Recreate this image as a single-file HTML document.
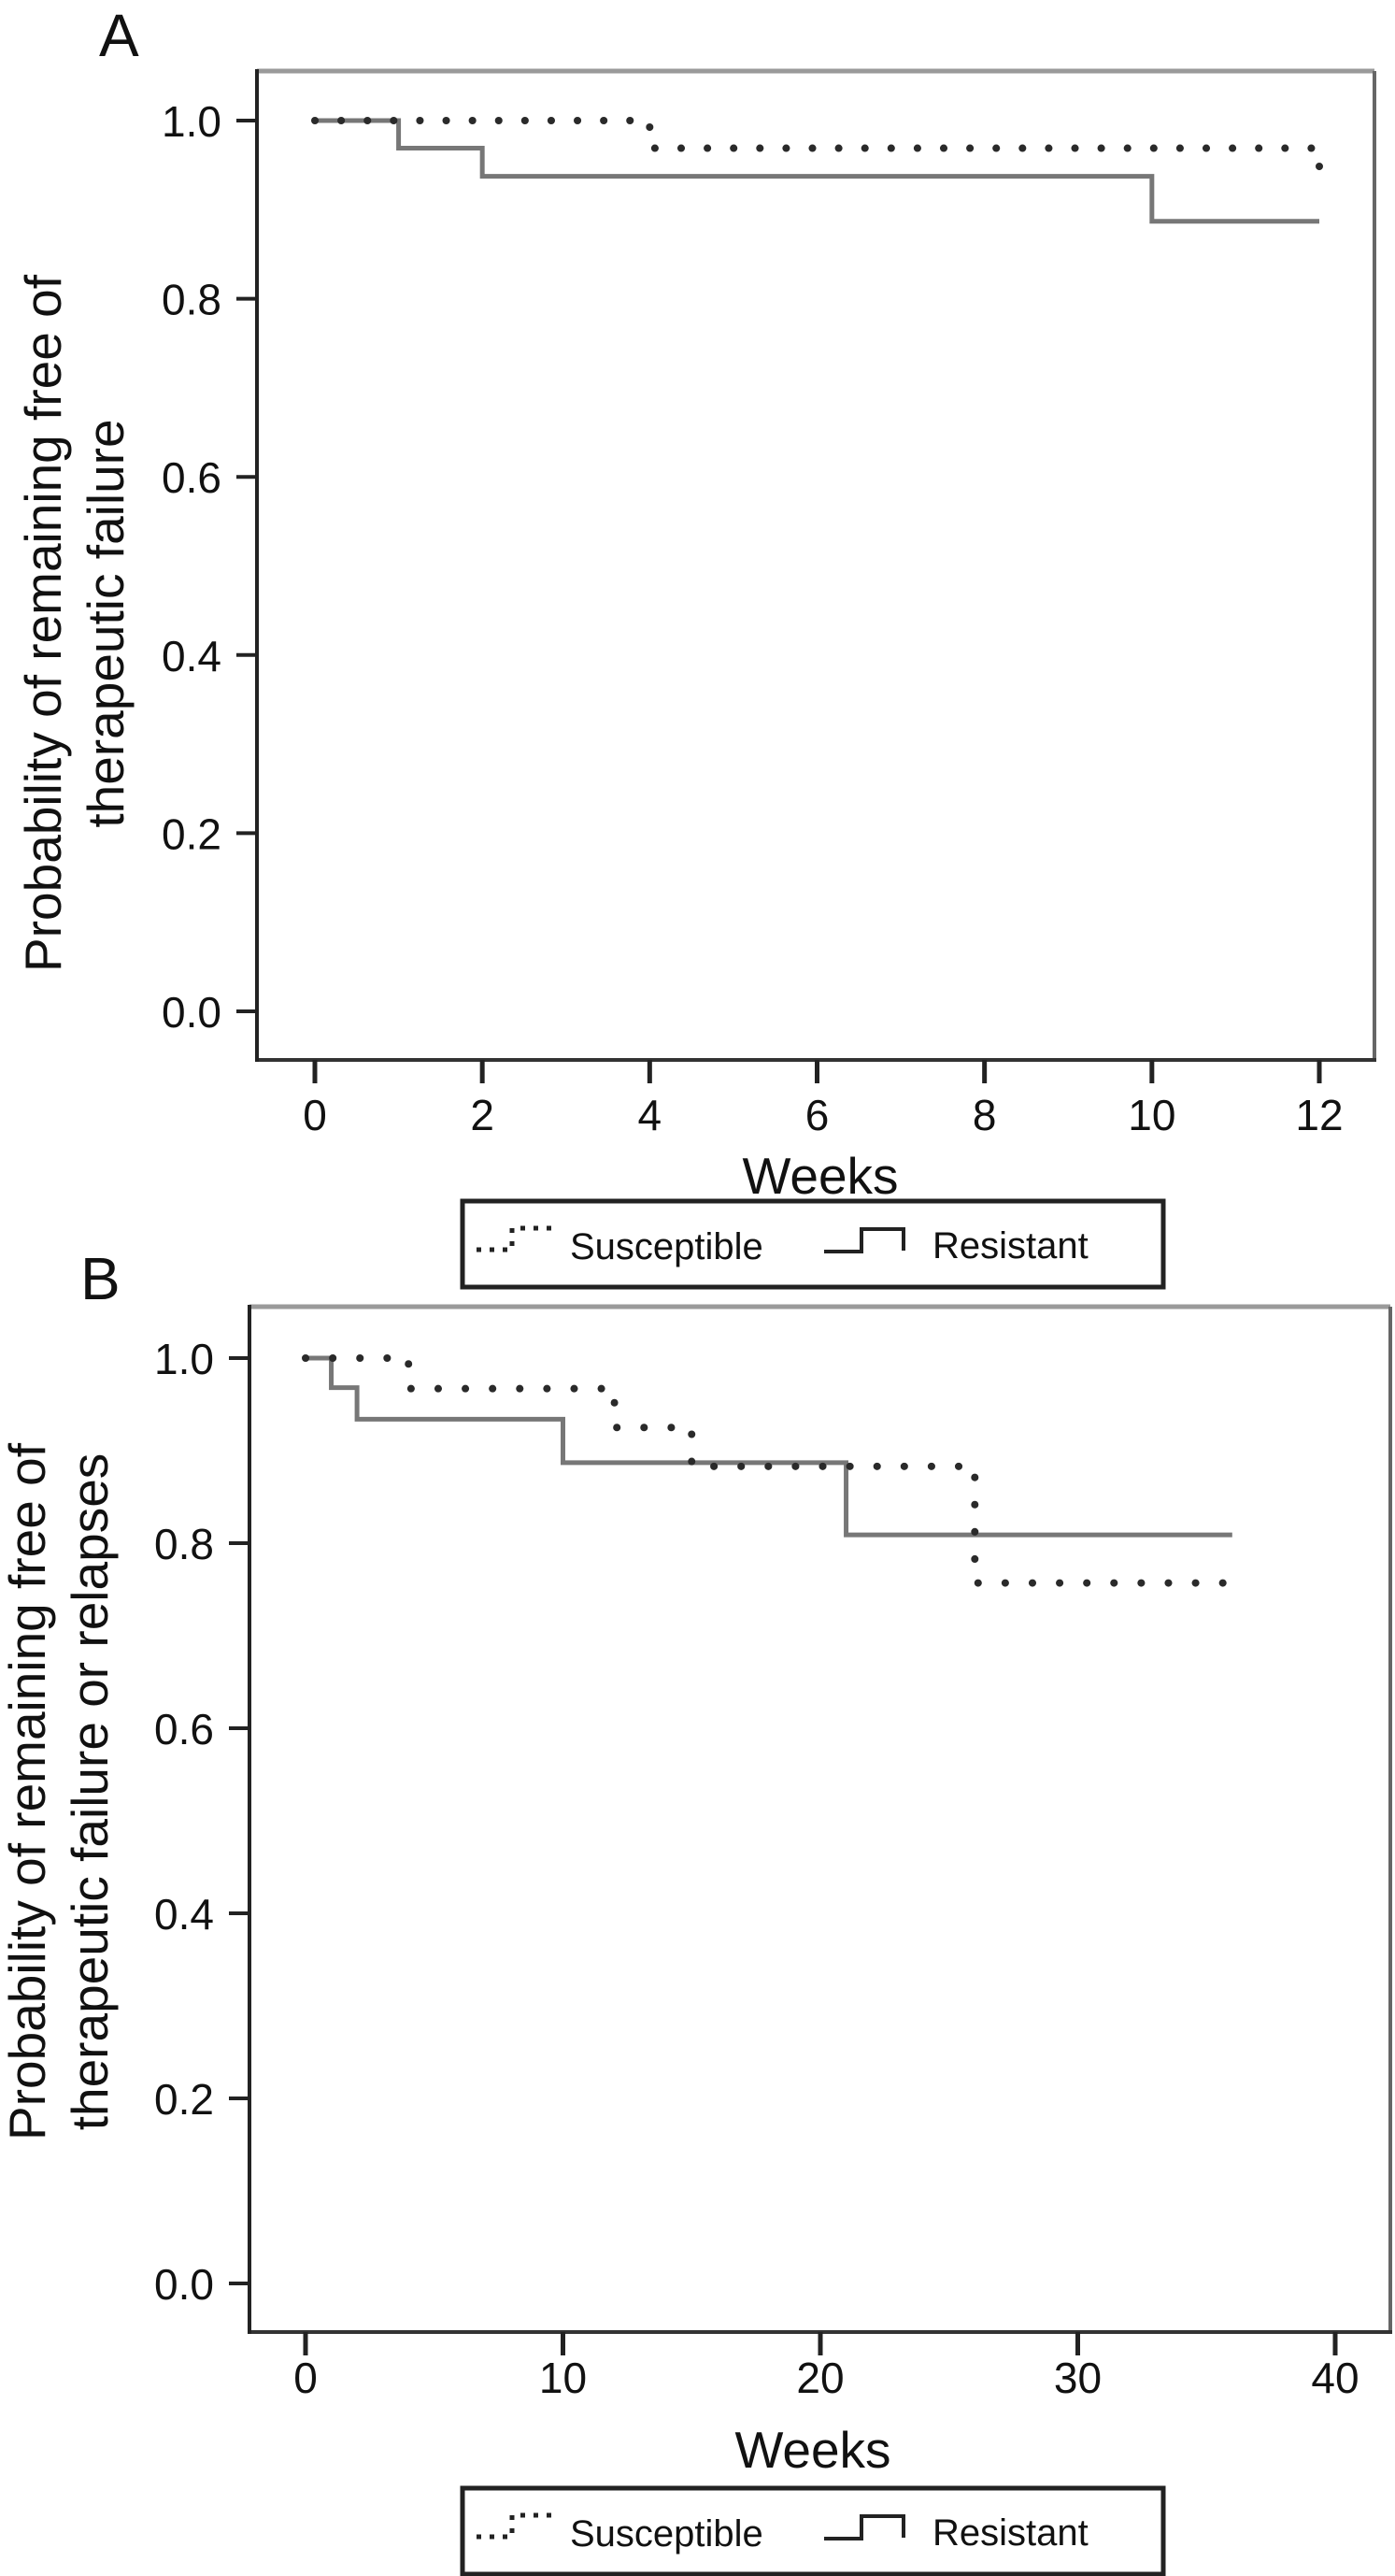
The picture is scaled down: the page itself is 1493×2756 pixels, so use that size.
<!DOCTYPE html>
<html><head><meta charset="utf-8"><style>
html,body{margin:0;padding:0;background:#fff;}
svg{display:block;}
text{font-family:"Liberation Sans",sans-serif;fill:#111;}
</style></head>
<body>
<svg id="fig" width="1493" height="2756" viewBox="0 0 1493 2756" xmlns="http://www.w3.org/2000/svg">
<g id="panelA"></g>
<g id="panelB"></g>
</svg>
<script>
// Panel A data
const aXTicks = [0, 2, 4, 6, 8, 10, 12];
const aYTicks = [0.0, 0.2, 0.4, 0.6, 0.8, 1.0];
const aSuscTimes = [0, 4, 12];
const aSuscSurv = [1.0, 0.969, 0.938];
const aSuscEnd = 12;
const aResTimes = [0, 1, 2, 10];
const aResSurv = [1.0, 0.969, 0.9375, 0.887];
const aResEnd = 12;
// Panel B data
const bXTicks = [0, 10, 20, 30, 40];
const bYTicks = [0.0, 0.2, 0.4, 0.6, 0.8, 1.0];
const bSuscTimes = [0, 4, 12, 15, 26];
const bSuscSurv = [1.0, 0.967, 0.925, 0.883, 0.757];
const bSuscEnd = 36;
const bResTimes = [0, 1, 2, 10, 21];
const bResSurv = [1.0, 0.968, 0.934, 0.887, 0.809];
const bResEnd = 36;

const NS = "http://www.w3.org/2000/svg";
function mk(parent, tag, attrs, txt) {
  const e = document.createElementNS(NS, tag);
  for (const k in attrs) e.setAttribute(k, attrs[k]);
  if (txt !== undefined) e.textContent = txt;
  parent.appendChild(e);
  return e;
}

function stepPath(times, surv, end, sx, sy) {
  let d = "M" + sx(times[0]) + "," + sy(surv[0]);
  for (let i = 1; i < times.length; i++) {
    d += " H" + sx(times[i]) + " V" + sy(surv[i]);
  }
  d += " H" + sx(end);
  return d;
}

function drawPanel(g, cfg) {
  const sx = v => cfg.x0 + (v - cfg.xmin) / (cfg.xmax - cfg.xmin) * (cfg.x1 - cfg.x0);
  const sy = v => cfg.y0 - v * (cfg.y0 - cfg.y1);
  let e;
  e = mk(g, "line", {x1: cfg.L, y1: cfg.T, x2: cfg.R, y2: cfg.T, stroke: "#9a9a9a", "stroke-width": 5});
  
  
  e = mk(g, "line", {x1: cfg.R, y1: cfg.T, x2: cfg.R, y2: cfg.B, stroke: "#666", "stroke-width": 4});
  
  
  e = mk(g, "line", {x1: cfg.L, y1: cfg.B, x2: cfg.R + 2, y2: cfg.B, stroke: "#333", "stroke-width": 4});
  
  
  e = mk(g, "line", {x1: cfg.L, y1: cfg.T - 2, x2: cfg.L, y2: cfg.B + 2, stroke: "#222", "stroke-width": 4});
  
  
  cfg.yTicks.forEach(v => {
    const y = sy(v);
    let t = mk(g, "line", {x1: cfg.L - 22, y1: y, x2: cfg.L, y2: y, stroke: "#222", "stroke-width": 4});
    
    
    let l = mk(g, "text", {x: cfg.L - 38, y: y + 17, "font-size": 46, "text-anchor": "end"}, v.toFixed(1));
    
    
  });
  cfg.xTicks.forEach(v => {
    const x = sx(v);
    let t = mk(g, "line", {x1: x, y1: cfg.B, x2: x, y2: cfg.B + 25, stroke: "#222", "stroke-width": 5});
    
    
    let l = mk(g, "text", {x: x, y: cfg.xLabelY, "font-size": 46, "text-anchor": "middle"}, String(v));
    
    
  });
  let p = mk(g, "path", {d: stepPath(cfg.resT, cfg.resS, cfg.resE, sx, sy), fill: "none", stroke: "#777", "stroke-width": 5});
  
  
  p = mk(g, "path", {d: stepPath(cfg.susT, cfg.susS, cfg.susE, sx, sy), fill: "none", stroke: "#2a2a2a", "stroke-width": 8, "stroke-dasharray": "0.1 " + cfg.dot, "stroke-linecap": "round"});
  
  
  let w = mk(g, "text", {x: cfg.wx, y: cfg.wy, "font-size": 55, "text-anchor": "middle"}, "Weeks");
  
  
  let yt = mk(g, "text", {transform: "translate(" + cfg.ylx + "," + cfg.yly + ") rotate(-90)", "font-size": 55, "text-anchor": "middle"});
  
  
  mk(yt, "tspan", {x: 0, y: 0}, cfg.yl1);
  mk(yt, "tspan", {x: 0, y: 67}, cfg.yl2);
  let pl = mk(g, "text", {x: cfg.px, y: cfg.py, "font-size": 64}, cfg.letter);
  
  
  const lg = mk(g, "g", {});
  
  
  const ty = cfg.legT;
  mk(lg, "rect", {x: 495, y: ty, width: 750, height: 92, fill: "none", stroke: "#222", "stroke-width": 5});
  let s = mk(lg, "path", {d: "M510," + (ty + 52) + " H548 V" + (ty + 29) + " H593", fill: "none", stroke: "#222", "stroke-width": 5, "stroke-dasharray": "5 9"});
  
  
  let st = mk(lg, "text", {x: 610, y: ty + 62, "font-size": 40}, "Susceptible");
  
  
  let r = mk(lg, "path", {d: "M882," + (ty + 54) + " H922 V" + (ty + 30) + " H967 V" + (ty + 53), fill: "none", stroke: "#222", "stroke-width": 4});
  
  
  let rt = mk(lg, "text", {x: 998, y: ty + 61, "font-size": 40}, "Resistant");
  
  
}

drawPanel(document.getElementById("panelA"), {
  L: 275, R: 1471, T: 76, B: 1134,
  x0: 337, x1: 1412, xmin: 0, xmax: 12, y0: 1082, y1: 129,
  xTicks: aXTicks, yTicks: aYTicks, xLabelY: 1209,
  susT: aSuscTimes, susS: aSuscSurv, susE: aSuscEnd,
  resT: aResTimes, resS: aResSurv, resE: aResEnd, dot: 28,
  wx: 878, wy: 1277, ylx: 65, yly: 667,
  yl1: "Probability of remaining free of", yl2: "therapeutic failure",
  letter: "A", px: 106, py: 60, legT: 1285
});
drawPanel(document.getElementById("panelB"), {
  L: 267, R: 1488, T: 1398, B: 2495,
  x0: 327, x1: 1429, xmin: 0, xmax: 40, y0: 2443, y1: 1453,
  xTicks: bXTicks, yTicks: bYTicks, xLabelY: 2560,
  susT: bSuscTimes, susS: bSuscSurv, susE: bSuscEnd,
  resT: bResTimes, resS: bResSurv, resE: bResEnd, dot: 29,
  wx: 870, wy: 2640, ylx: 48, yly: 1917,
  yl1: "Probability of remaining free of", yl2: "therapeutic failure or relapses",
  letter: "B", px: 86, py: 1390, legT: 2662
});
</script>
</body></html>
